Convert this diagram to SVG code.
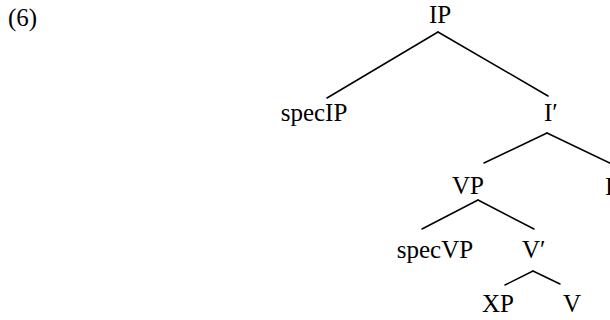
<svg xmlns="http://www.w3.org/2000/svg" width="610" height="320" viewBox="0 0 610 320">
<style>
text { font-family: "Liberation Serif", "Times New Roman", serif; font-size: 25px; fill: #000; }
.c { text-anchor: middle; }
.e { stroke: #000; stroke-width: 1.5; fill: none; stroke-linecap: round; }
</style>
<rect width="610" height="320" fill="#fff"/>
<text x="8" y="26">(6)</text>
<g id="connectors">
  <line class="e" x1="438" y1="32" x2="327" y2="98"/>
  <line class="e" x1="438" y1="32" x2="548" y2="96"/>
  <line class="e" x1="547" y1="133" x2="484" y2="163"/>
  <line class="e" x1="547" y1="133" x2="612" y2="164"/>
  <line class="e" x1="478" y1="200" x2="422" y2="229"/>
  <line class="e" x1="478" y1="200" x2="534" y2="229"/>
  <line class="e" x1="533" y1="271" x2="505" y2="285"/>
  <line class="e" x1="533" y1="271" x2="560" y2="284"/>
</g>
<g id="IP"><text class="c" x="440" y="23">IP</text></g>
<g id="specIP"><text class="c" x="314" y="121">specIP</text></g>
<g id="Ibar"><text x="544" y="121">I′</text></g>
<g id="VP"><text class="c" x="468" y="194">VP</text></g>
<g id="I"><text x="605" y="195">I</text></g>
<g id="specVP"><text class="c" x="435" y="258">specVP</text></g>
<g id="Vbar"><text x="522" y="258">V′</text></g>
<g id="XP"><text class="c" x="498" y="312">XP</text></g>
<g id="V"><text class="c" x="572" y="312">V</text></g>
</svg>
